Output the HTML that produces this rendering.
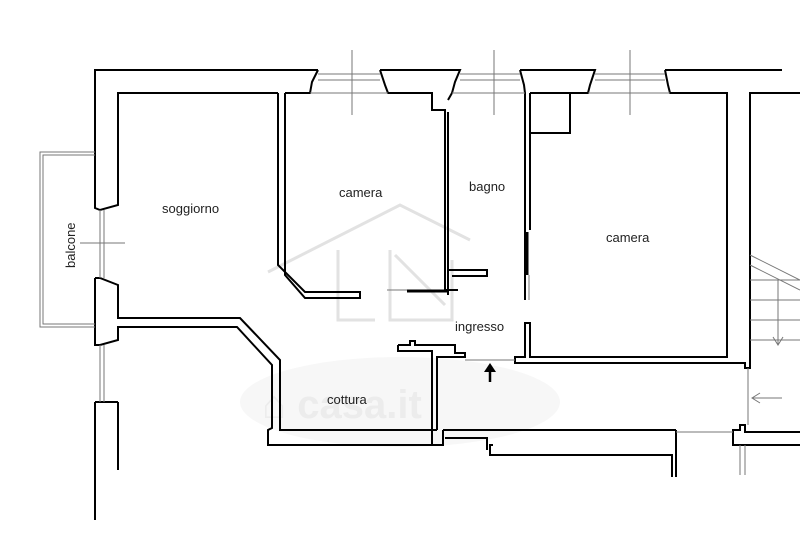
<!DOCTYPE html>
<html><head><meta charset="utf-8"><style>
html,body{margin:0;padding:0;background:#fff;width:800px;height:533px;overflow:hidden}
svg{display:block}
text{font-family:"Liberation Sans",sans-serif;font-size:13px;fill:#222}
</style></head><body>
<svg width="800" height="533" viewBox="0 0 800 533" xmlns="http://www.w3.org/2000/svg">
<g stroke="#e2e2e2" stroke-width="3" fill="none">
<polyline points="268,272 400,205 470,240"/>
<polyline points="338,250 338,320 375,320"/>
<polyline points="390,250 390,320 452,320 452,260"/>
<line x1="395" y1="255" x2="445" y2="305"/>
</g>
<ellipse cx="400" cy="402" rx="160" ry="45" fill="#f7f7f7"/>
<text x="262" y="418" style="font-size:40px;fill:#ececec;font-weight:bold">⌂ casa.it</text>
<g fill="none" stroke="#000" stroke-width="2">
<polyline points="318,70 95,70 95,208 100,210 118,205 118,93 278,93"/>
<polyline points="318,70 312,82 310,93 285,93"/>
<polyline points="380,70 385,85 388,93 432,93 432,110 445,110 445,290 458,290"/>
<line x1="448" y1="112" x2="448" y2="295"/>
<polyline points="380,70 460,70 455,82 452,93 448,100"/>
<polyline points="520,70 595,70 590,85 588,93 530,93"/>
<polyline points="520,70 524,85 525,93 525,300"/>
<polyline points="530,93 530,230"/>
<polyline points="530,133 570,133 570,93"/>
<polyline points="665,70 782,70"/>
<polyline points="665,70 668,85 670,93 727,93 727,357 530,357 530,323 525,323 525,357 515,357 515,363 745,363 745,368 750,368 750,93 800,93"/>
<polyline points="95,278 100,278 118,285 118,318 240,318 280,360 280,430 437,430"/>
<polyline points="95,278 95,345 100,345 118,340 118,327 237,327 272,365 272,428 268,430 268,445 443,445 443,430"/>
<line x1="95" y1="402" x2="95" y2="520"/>
<line x1="95" y1="402" x2="118" y2="402"/>
<line x1="118" y1="402" x2="118" y2="470"/>
<polyline points="278,93 278,265 305,292 360,292 360,298 305,298 285,275 285,93"/>
<polyline points="448,270 487,270 487,276 452,276"/>
<polyline points="398,345 398,351 432,351 432,445"/>
<polyline points="398,345 410,345 410,341 415,341 415,345 455,345 455,353 465,353 465,357 437,357 437,430"/>
<polyline points="445,438 487,438 487,450"/>
<polyline points="493,445 490,445 490,455 493,455 672,455 672,477"/>
<polyline points="676,430 676,477"/>
<polyline points="443,430 676,430"/>
<polyline points="800,445 733,445 733,430 740,430 740,425 745,425 745,432 800,432"/>
</g>
<g stroke="#000" stroke-width="3">
<line x1="407" y1="291" x2="447" y2="291"/>
<line x1="527" y1="232" x2="527" y2="275"/>
</g>
<g stroke="#777" stroke-width="1" fill="none">
<line x1="318" y1="74" x2="380" y2="74"/><line x1="318" y1="80" x2="380" y2="80"/><line x1="310" y1="93" x2="388" y2="93"/>
<line x1="460" y1="74" x2="520" y2="74"/><line x1="460" y1="80" x2="520" y2="80"/><line x1="452" y1="93" x2="525" y2="93"/>
<line x1="595" y1="74" x2="665" y2="74"/><line x1="595" y1="80" x2="665" y2="80"/><line x1="588" y1="93" x2="670" y2="93"/>
<line x1="352" y1="50" x2="352" y2="115"/><line x1="494" y1="50" x2="494" y2="115"/><line x1="630" y1="50" x2="630" y2="115"/>
<line x1="100" y1="210" x2="100" y2="278"/><line x1="104" y1="210" x2="104" y2="278"/>
<line x1="80" y1="243" x2="125" y2="243"/>
<polyline points="95,152 40,152 40,327 95,327"/><polyline points="95,155 43,155 43,324 95,324"/>
<line x1="100" y1="345" x2="100" y2="402"/><line x1="104" y1="345" x2="104" y2="402"/>
<line x1="465" y1="360" x2="515" y2="360"/>
<line x1="387" y1="290" x2="407" y2="290"/>
<line x1="529" y1="275" x2="529" y2="300"/>
<line x1="748" y1="368" x2="748" y2="425"/>
<line x1="676" y1="432" x2="733" y2="432"/>
<line x1="740" y1="445" x2="740" y2="475"/><line x1="745" y1="445" x2="745" y2="475"/>
<line x1="750" y1="255" x2="800" y2="280"/><line x1="750" y1="265" x2="800" y2="290"/>
<line x1="750" y1="280" x2="800" y2="280"/><line x1="750" y1="300" x2="800" y2="300"/><line x1="750" y1="320" x2="800" y2="320"/><line x1="750" y1="340" x2="800" y2="340"/>
<line x1="778" y1="280" x2="778" y2="345"/><polyline points="773,337 778,345 783,337"/>
<line x1="752" y1="398" x2="782" y2="398"/><polyline points="760,393 752,398 760,403"/>
</g>
<line x1="490" y1="382" x2="490" y2="370" stroke="#000" stroke-width="2.5"/>
<polygon points="484,372 490,363 496,372" fill="#000"/>
<text x="162" y="213">soggiorno</text>
<text x="339" y="197">camera</text>
<text x="469" y="191">bagno</text>
<text x="606" y="242">camera</text>
<text x="455" y="331">ingresso</text>
<text x="327" y="404">cottura</text>
<text transform="translate(75,268) rotate(-90)">balcone</text>
</svg>
</body></html>
